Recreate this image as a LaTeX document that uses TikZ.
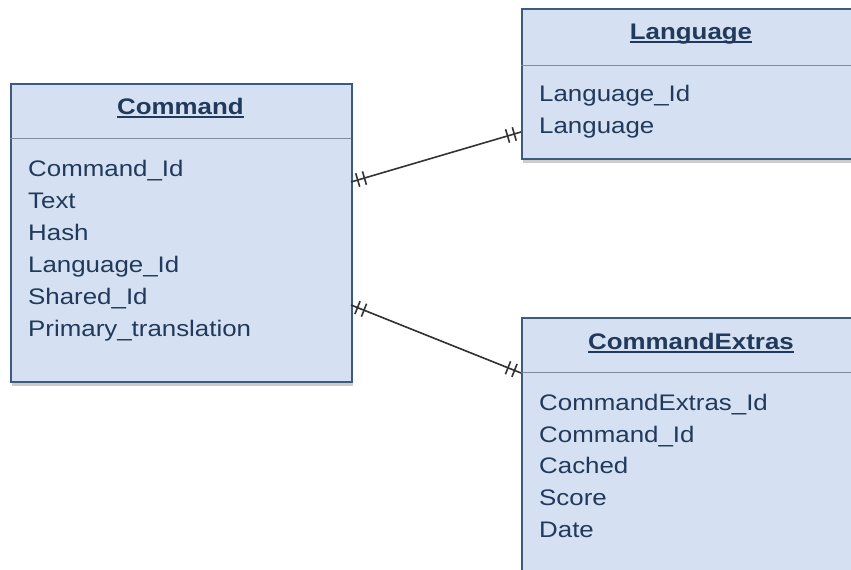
\documentclass[tikz,border=0pt]{standalone}
\usepackage{fontspec}
\setmainfont{Liberation Sans}[FakeStretch=1.15]
\usetikzlibrary{shadows,decorations.markings}
\definecolor{boxfill}{HTML}{D5E1F2}
\definecolor{boxline}{HTML}{3D5A80}
\definecolor{txt}{HTML}{21395A}
\definecolor{sepc}{HTML}{7F8C9C}
\definecolor{conn}{HTML}{333333}
\begin{document}
\begin{tikzpicture}[x=1pt,y=-1pt,
 entity/.style={draw=boxline, line width=1.5pt, fill=boxfill, rectangle, inner sep=0pt, anchor=north west,
   drop shadow={shadow xshift=1pt, shadow yshift=-4pt, opacity=0.4}},
 ttl/.style={font=\fontsize{22.5}{27}\selectfont\bfseries, text=txt, anchor=base, inner sep=0pt},
 attr/.style={font=\fontsize{22.5}{27}\selectfont, text=txt, anchor=base west, inner sep=0pt},
 sepline/.style={draw=sepc, line width=1pt},
 uline/.style={draw=txt, line width=1.6pt},
 rel/.style={draw=conn, line width=1.6pt, postaction={decorate},
   decoration={markings,
     mark=at position 7pt with {\draw[conn, line width=1.6pt] (0pt,-7pt) -- (0pt,7pt);},
     mark=at position 14pt with {\draw[conn, line width=1.6pt] (0pt,-7pt) -- (0pt,7pt);},
     mark=at position -7pt with {\draw[conn, line width=1.6pt] (0pt,-7pt) -- (0pt,7pt);},
     mark=at position -14pt with {\draw[conn, line width=1.6pt] (0pt,-7pt) -- (0pt,7pt);}}}
]
\useasboundingbox (0,0) rectangle (851,570);
\clip (0,0) rectangle (851,570);
\fill[white] (0,0) rectangle (851,570);

% Command
\node[entity, minimum width=341pt, minimum height=298pt] (cmd) at (10,83) {};
\draw[sepline] (10,138) -- (351,138);
\node[ttl] (cmdT) at (180.5,114) {Command};
\draw[uline] ([yshift=-3pt]cmdT.base west) -- ([yshift=-3pt]cmdT.base east);
\node[attr] (c1) at (28,176) {Command\_Id};
\node[attr] (c2) at (28,208) {Text};
\node[attr] (c3) at (28,240) {Hash};
\node[attr] (c4) at (28,272) {Language\_Id};
\node[attr] (c5) at (28,304) {Shared\_Id};
\node[attr] (c6) at (28,336) {Primary\_translation};

% Language
\node[entity, minimum width=340pt, minimum height=150pt] (lang) at (521,8) {};
\draw[sepline] (521,65) -- (861,65);
\node[ttl] (langT) at (691,39) {Language};
\draw[uline] ([yshift=-3pt]langT.base west) -- ([yshift=-3pt]langT.base east);
\node[attr] (l1) at (539,101) {Language\_Id};
\node[attr] (l2) at (539,133) {Language};

% CommandExtras
\node[entity, minimum width=340pt, minimum height=320pt] (cex) at (521,317) {};
\draw[sepline] (521,372) -- (861,372);
\node[ttl] (cexT) at (691,349) {CommandExtras};
\draw[uline] ([yshift=-3pt]cexT.base west) -- ([yshift=-3pt]cexT.base east);
\node[attr] (e1) at (539,410) {CommandExtras\_Id};
\node[attr] (e2) at (539,442) {Command\_Id};
\node[attr] (e3) at (539,473) {Cached};
\node[attr] (e4) at (539,505) {Score};
\node[attr] (e5) at (539,537) {Date};

% connectors
\coordinate (p1) at (351,182);
\coordinate (p2) at (521,132);
\coordinate (p3) at (351,305);
\coordinate (p4) at (521,373);
\draw[rel] (p1) -- (p2);
\draw[rel] (p3) -- (p4);
\end{tikzpicture}
\end{document}
